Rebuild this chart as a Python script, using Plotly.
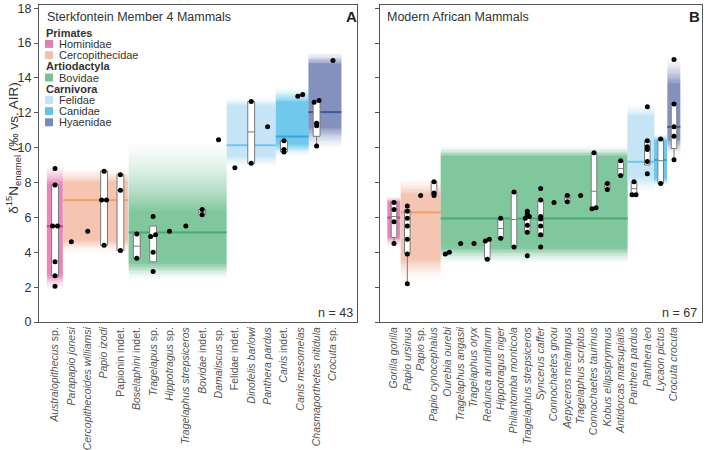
import plotly.graph_objects as go

# ---------------- Panel A : Sterkfontein Member 4 ----------------
a_taxa = ["<i>Australopithecus</i> sp.", "<i>Parapapio jonesi</i>", "<i>Cercopithecoides williamsi</i>",
          "<i>Papio izodi</i>", "Papionin indet.", "<i>Boselaphini</i> indet.", "<i>Tragelapus</i> sp.",
          "<i>Hippotragus</i> sp.", "<i>Tragelaphus strepsiceros</i>", "<i>Bovidae</i> indet.",
          "<i>Damaliscus</i> sp.", "Felidae indet.", "<i>Dinofelis barlowi</i>", "<i>Panthera pardus</i>",
          "<i>Canis</i> indet.", "<i>Canis mesomelas</i>", "<i>Chasmaporthetes nitidula</i>", "<i>Crocuta</i> sp."]
a_values = [
    [8.8, 7.85, 5.5, 5.5, 3.45, 2.65, 2.05],
    [4.6],
    [5.2],
    [8.65, 7.0, 7.0, 4.4],
    [8.45, 7.55, 4.1],
    [5.05, 3.65],
    [6.05, 5.0, 4.9, 4.0, 2.9],
    [5.2],
    [5.5],
    [6.45, 6.15],
    [10.45],
    [8.85],
    [12.65, 9.1],
    [11.2],
    [10.4, 9.9, 9.75],
    [13.05, 12.95],
    [12.7, 12.6, 11.4, 11.25, 10.1],
    [15.0],
]
a_box_idx = [0, 3, 4, 5, 6, 9, 12, 14, 15, 16]
a_box_q1 = [2.65, 4.4, 4.1, 3.65, 3.45, 6.15, 9.1, 9.75, 12.95, 10.65]
a_box_med = [5.5, 7.0, 7.55, 4.35, 4.9, 6.3, 10.9, 9.9, 13.0, 11.4]
a_box_q3 = [7.85, 8.65, 8.45, 5.05, 5.5, 6.45, 12.65, 10.4, 13.05, 12.7]
a_box_lo = [2.65, 4.4, 4.1, 3.65, 3.45, 6.15, 9.1, 9.75, 12.95, 10.1]
a_box_hi = [7.85, 8.65, 8.45, 5.05, 5.5, 6.45, 12.65, 10.4, 13.05, 12.7]

# family bands: first / last taxon index, outer-low, core-low, core-high, outer-high, median
a_fam = ["Hominidae", "Cercopithecidae", "Bovidae", "Felidae", "Canidae", "Hyaenidae"]
a_fam_first = [0, 1, 5, 11, 14, 16]
a_fam_last = [0, 4, 10, 13, 15, 17]
a_fam_lo_out = [1.8, 3.9, 2.4, 8.9, 9.5, 9.9]
a_fam_lo_core = [2.7, 4.7, 3.4, 9.5, 10.2, 11.2]
a_fam_hi_core = [7.9, 8.0, 6.3, 12.4, 12.6, 14.8]
a_fam_hi_out = [9.1, 8.9, 10.7, 12.95, 13.5, 15.5]
a_fam_median = [5.5, 7.0, 5.15, 10.15, 10.65, 12.05]

# ---------------- Panel B : Modern African ----------------
b_taxa = ["<i>Gorilla gorilla</i>", "<i>Papio ursinus</i>", "<i>Papio</i> sp.", "<i>Papio cynocephalus</i>",
          "<i>Ourebia ourebi</i>", "<i>Tragelaphus angasii</i>", "<i>Tragelaphus oryx</i>",
          "<i>Redunca arundinum</i>", "<i>Hippotragus niger</i>", "<i>Philantomba monticola</i>",
          "<i>Tragelaphus strepsiceros</i>", "<i>Syncerus caffer</i>", "<i>Connochaetes gnou</i>",
          "<i>Aepyceros melampus</i>", "<i>Tragelaphus scriptus</i>", "<i>Connochaetes taurinus</i>",
          "<i>Kobus ellipsiprymnus</i>", "<i>Antidorcas marsupialis</i>", "<i>Panthera pardus</i>",
          "<i>Panthera leo</i>", "<i>Lycaon pictus</i>", "<i>Crocuta crocuta</i>"]
b_values = [
    [6.85, 6.45, 5.75, 4.5],
    [6.65, 6.35, 5.95, 5.5, 4.75, 3.9, 2.2],
    [7.25],
    [8.05, 7.4, 7.25],
    [4.0, 3.9],
    [4.5],
    [4.5],
    [4.75, 4.65, 3.6],
    [5.95, 4.8],
    [7.45, 4.3],
    [6.35, 6.2, 6.05, 5.95, 5.55, 5.15, 3.8],
    [7.65, 7.0, 6.05, 5.9, 5.5, 5.0, 4.3],
    [6.85],
    [7.25, 6.9],
    [7.25],
    [9.7, 6.55, 6.5],
    [7.95, 7.6],
    [9.25, 8.4],
    [8.05, 7.3, 7.3],
    [12.35, 10.4, 10.05, 9.9, 9.2, 8.5],
    [10.5, 7.95],
    [15.05, 12.5, 11.2, 10.65, 9.3],
]
b_box_idx = [0, 1, 3, 7, 8, 9, 10, 11, 13, 15, 16, 17, 18, 19, 20, 21]
b_box_q1 = [4.85, 3.92, 7.3, 3.6, 4.8, 4.3, 5.15, 4.9, 6.9, 6.5, 7.6, 8.4, 7.3, 9.0, 7.95, 9.95]
b_box_med = [6.05, 5.5, 7.4, 4.65, 5.36, 5.88, 5.95, 5.9, 7.1, 7.5, 7.75, 8.8, 7.65, 9.9, 9.25, 11.2]
b_box_q3 = [6.9, 6.44, 8.05, 4.75, 5.95, 7.45, 6.1, 7.0, 7.25, 9.7, 7.95, 9.25, 8.0, 10.4, 10.5, 12.5]
b_box_lo = [4.5, 2.2, 7.3, 3.6, 4.8, 4.3, 5.15, 4.9, 6.9, 6.5, 7.6, 8.4, 7.3, 9.0, 7.95, 9.3]
b_box_hi = [6.9, 6.65, 8.05, 4.75, 5.95, 7.45, 6.1, 7.0, 7.25, 9.7, 7.95, 9.25, 8.0, 10.4, 10.5, 12.5]

b_fam = ["Hominidae", "Cercopithecidae", "Bovidae", "Felidae", "Canidae", "Hyaenidae"]
b_fam_first = [0, 1, 4, 18, 20, 21]
b_fam_last = [0, 3, 17, 19, 20, 21]
b_fam_lo_out = [4.3, 2.35, 3.3, 7.3, 7.8, 9.5]
b_fam_lo_core = [4.9, 3.6, 4.3, 8.3, 8.2, 10.5]
b_fam_hi_core = [6.9, 7.3, 9.5, 11.8, 10.4, 13.6]
b_fam_hi_out = [7.2, 8.3, 10.1, 12.6, 10.8, 15.3]
b_fam_median = [6.0, 6.3, 5.95, 9.2, 9.3, 11.2]

# ---------------- styles ----------------
fam_color = {"Hominidae": (230, 124, 178), "Cercopithecidae": (244, 192, 170), "Bovidae": (118, 194, 150),
             "Felidae": (192, 227, 245), "Canidae": (100, 196, 234), "Hyaenidae": (122, 136, 184)}
fam_line = {"Hominidae": (214, 58, 140), "Cercopithecidae": (240, 160, 105), "Bovidae": (74, 168, 116),
            "Felidae": (120, 195, 235), "Canidae": (45, 168, 224), "Hyaenidae": (66, 86, 160)}
legend_rows = [("Primates", None), ("Hominidae", "Hominidae"), ("Cercopithecidae", "Cercopithecidae"),
               ("Artiodactyla", None), ("Bovidae", "Bovidae"), ("Carnivora", None),
               ("Felidae", "Felidae"), ("Canidae", "Canidae"), ("Hyaenidae", "Hyaenidae")]

W, H = 704, 450
MT, MB = 5, 125
FONT = "Liberation Sans, Arial, sans-serif"


def rgba(c, a):
    return "rgba(%d,%d,%d,%.3f)" % (c[0], c[1], c[2], a)


fig = go.Figure()


def add_bands(xa, ya, fam, first, last, lo_o, lo_c, hi_c, hi_o, med):
    for i, f in enumerate(fam):
        x0, x1 = first[i] - 0.5, last[i] + 0.5
        n = 80
        edges = [lo_o[i] + (hi_o[i] - lo_o[i]) * k / n for k in range(n + 1)]
        z = []
        for k in range(n):
            yc = 0.5 * (edges[k] + edges[k + 1])
            if yc < lo_c[i]:
                t = (yc - lo_o[i]) / (lo_c[i] - lo_o[i])
                a = t ** 1.6
            elif yc > hi_c[i]:
                t = (hi_o[i] - yc) / (hi_o[i] - hi_c[i])
                a = t ** 1.6
            else:
                a = 1.0
            z.append([a])
        c = fam_color[f]
        fig.add_trace(go.Heatmap(x=[x0, x1], y=edges, z=z, zmin=0, zmax=1, showscale=False,
                                 colorscale=[[0, rgba(c, 0)], [1, rgba(c, 0.92)]],
                                 hoverinfo="skip", xaxis=xa, yaxis=ya))
        lc = fam_line[f]
        fig.add_trace(go.Heatmap(x=[x0, x1], y=[med[i] - 0.045, med[i] + 0.045], z=[[1]], zmin=0, zmax=1,
                                 showscale=False, colorscale=[[0, rgba(lc, 1)], [1, rgba(lc, 1)]],
                                 hoverinfo="skip", xaxis=xa, yaxis=ya))


def add_boxes(xa, ya, idx, q1, med, q3, lo, hi):
    fig.add_trace(go.Box(x=idx, q1=q1, median=med, q3=q3, lowerfence=lo, upperfence=hi,
                         fillcolor="white", line=dict(color="#7a7a7a", width=1), width=0.42,
                         whiskerwidth=0, boxpoints=False, hoverinfo="skip", showlegend=False,
                         xaxis=xa, yaxis=ya))


def add_points(xa, ya, values):
    xs, ys = [], []
    for i, vals in enumerate(values):
        sv = sorted(vals)
        clusters = [[sv[0]]]
        for v in sv[1:]:
            if v - clusters[-1][-1] < 0.12:
                clusters[-1].append(v)
            else:
                clusters.append([v])
        for cl in clusters:
            m = len(cl)
            for j, v in enumerate(cl):
                xs.append(i + (j - (m - 1) / 2) * 0.3)
                ys.append(v)
    fig.add_trace(go.Scatter(x=xs, y=ys, mode="markers", marker=dict(color="black", size=5),
                             hoverinfo="skip", showlegend=False, xaxis=xa, yaxis=ya))


add_bands("x", "y", a_fam, a_fam_first, a_fam_last, a_fam_lo_out, a_fam_lo_core, a_fam_hi_core,
          a_fam_hi_out, a_fam_median)
add_bands("x2", "y2", b_fam, b_fam_first, b_fam_last, b_fam_lo_out, b_fam_lo_core, b_fam_hi_core,
          b_fam_hi_out, b_fam_median)
add_boxes("x", "y", a_box_idx, a_box_q1, a_box_med, a_box_q3, a_box_lo, a_box_hi)
add_boxes("x2", "y2", b_box_idx, b_box_q1, b_box_med, b_box_q3, b_box_lo, b_box_hi)
add_points("x", "y", a_values)
add_points("x2", "y2", b_values)


def px(x):
    return x / W


def py(y):
    return (H - MB - y) / (H - MT - MB)


annotations = []
shapes = []
annotations += [
    dict(text="Sterkfontein Member 4 Mammals", x=px(45), y=py(17), xanchor="left", yanchor="middle",
         font=dict(size=12.5, color="#333")),
    dict(text="<b>A</b>", x=px(351), y=py(17), xanchor="center", yanchor="middle",
         font=dict(size=15, color="#222")),
    dict(text="Modern African Mammals", x=px(385), y=py(17), xanchor="left", yanchor="middle",
         font=dict(size=12.5, color="#333")),
    dict(text="<b>B</b>", x=px(694), y=py(17), xanchor="center", yanchor="middle",
         font=dict(size=15, color="#222")),
    dict(text="n = %d" % sum(len(v) for v in a_values), x=px(355), y=py(316), xanchor="right",
         yanchor="middle", font=dict(size=12.5, color="#333")),
    dict(text="n = %d" % sum(len(v) for v in b_values), x=px(699), y=py(316), xanchor="right",
         yanchor="middle", font=dict(size=12.5, color="#333")),
    dict(text="δ<sup>15</sup>N<sub>enamel</sub> (‰ vs. AIR)", x=px(13), y=py(150), textangle=-90,
         xanchor="center", yanchor="middle", font=dict(size=13.5, color="#333")),
]
for r, (label, fam) in enumerate(legend_rows):
    yy = 33 + 11.3 * r
    if fam is None:
        annotations.append(dict(text="<b>%s</b>" % label, x=px(44), y=py(yy), xanchor="left",
                                yanchor="middle", font=dict(size=11, color="#333")))
    else:
        shapes.append(dict(type="rect", xref="paper", yref="paper", x0=px(45), x1=px(53),
                           y0=py(yy + 4), y1=py(yy - 4), fillcolor=rgba(fam_color[fam], 1),
                           line=dict(width=0)))
        annotations.append(dict(text=label, x=px(57), y=py(yy), xanchor="left", yanchor="middle",
                                font=dict(size=11, color="#333")))
for a in annotations:
    a.setdefault("xref", "paper")
    a.setdefault("yref", "paper")
    a.setdefault("showarrow", False)

axis_common = dict(showline=True, mirror=True, linecolor="#555", linewidth=1, showgrid=False,
                   zeroline=False)
fig.update_layout(
    width=W, height=H, margin=dict(l=0, r=0, t=MT, b=MB),
    paper_bgcolor="white", plot_bgcolor="white", showlegend=False,
    font=dict(family=FONT, color="#333"),
    xaxis=dict(domain=[39 / W, 357 / W], range=[-0.98, 18.47], tickmode="array",
               tickvals=list(range(len(a_taxa))), ticktext=a_taxa, tickangle=-90, ticks="",
               tickfont=dict(size=10.5, color="#555"), **axis_common),
    yaxis=dict(range=[0, 18.18], tickvals=list(range(0, 19, 2)), ticks="outside", ticklen=4,
               tickcolor="#555", tickfont=dict(size=12.5, color="#333"), **axis_common),
    xaxis2=dict(domain=[380 / W, 702 / W], range=[-1.05, 23.1], anchor="y2", tickmode="array",
                tickvals=list(range(len(b_taxa))), ticktext=b_taxa, tickangle=-90, ticks="",
                tickfont=dict(size=10.5, color="#555"), **axis_common),
    yaxis2=dict(range=[0, 18.18], anchor="x2", tickvals=list(range(0, 19, 2)), ticks="outside",
                ticklen=4, tickcolor="#555", showticklabels=False, **axis_common),
    annotations=annotations, shapes=shapes,
)

fig.write_html("out.html")
